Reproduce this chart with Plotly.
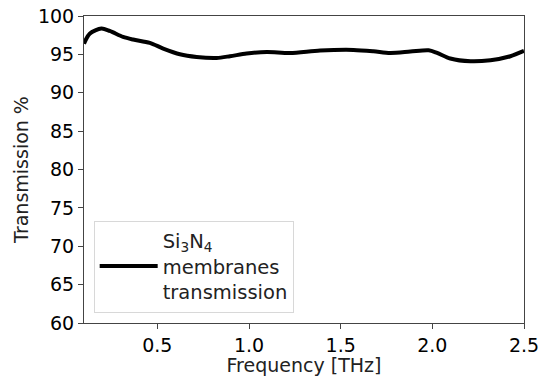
import plotly.graph_objects as go

freq = [0.10, 0.131, 0.195, 0.24, 0.313, 0.368, 0.459, 0.532, 0.623, 0.714, 0.823,
        0.896, 0.987, 1.097, 1.224, 1.388, 1.57, 1.679, 1.77, 1.88, 1.98, 2.026,
        2.098, 2.208, 2.317, 2.426, 2.50]
trans = [96.4, 97.7, 98.36, 98.05, 97.27, 96.93, 96.5, 95.76, 95.02, 94.67, 94.54,
         94.76, 95.11, 95.32, 95.19, 95.5, 95.58, 95.41, 95.19, 95.37, 95.54, 95.19,
         94.46, 94.1, 94.24, 94.76, 95.45]
x_ticks = [0.5, 1.0, 1.5, 2.0, 2.5]
y_ticks = [60, 65, 70, 75, 80, 85, 90, 95, 100]
series_name = "Si<sub>3</sub>N<sub>4</sub><br>membranes<br>transmission"

fig = go.Figure()
fig.add_trace(go.Scatter(x=freq, y=trans, mode="lines", name=series_name,
                         line=dict(color="black", width=4, shape="spline", smoothing=0.8)))

axis_common = dict(showline=True, linecolor="#444", linewidth=1, mirror=True,
                   ticks="outside", ticklen=5, tickcolor="#444", showgrid=False,
                   zeroline=False, automargin=False, ticklabeloverflow="allow",
                   tickfont=dict(size=19, color="black"))
fig.update_xaxes(range=[0.1, 2.5], tickvals=x_ticks, tickformat=".1f",
                 title=dict(text="Frequency [THz]", font=dict(size=19, color="#222"), standoff=3),
                 **axis_common)
fig.update_yaxes(range=[60, 100], tickvals=y_ticks,
                 title=dict(text="Transmission %", font=dict(size=19, color="#222"), standoff=4),
                 **axis_common)
fig.update_layout(
    width=539, height=376,
    margin=dict(l=84, r=15, t=16, b=53),
    paper_bgcolor="white", plot_bgcolor="white",
    font=dict(family="DejaVu Sans", color="black"),
    showlegend=True,
    legend=dict(x=0.022, y=0.034, xanchor="left", yanchor="bottom",
                bgcolor="white", bordercolor="#d8d8d8", borderwidth=1,
                font=dict(size=19.5, color="#222"), valign="middle",
                itemwidth=58),
)
fig.write_html("out.html")
